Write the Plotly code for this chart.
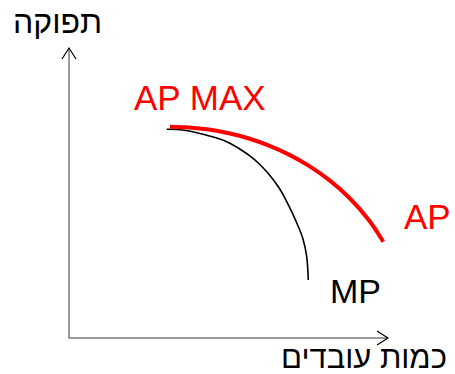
import plotly.graph_objects as go

# Data (units: labour on x, output on y)
ap_labour = [10.1, 12.0, 14.0, 16.0, 18.0, 20.0, 22.0, 24.0, 26.0, 28.0, 30.0, 31.43]
ap_output = [21.13, 21.06, 20.85, 20.48, 19.95, 19.24, 18.34, 17.21, 15.81, 14.05, 11.78, 9.63]
mp_labour = [9.77, 11.5, 13.5, 15.5, 17.0, 18.5, 19.8, 21.0, 22.0, 22.8, 23.4, 23.77, 23.93]
mp_output = [20.87, 20.78, 20.36, 19.75, 18.95, 17.89, 16.6, 15.02, 13.19, 11.45, 9.9, 8.13, 5.8]

x_axis_end = 31.9
y_axis_end = 29.0

labels = ["AP MAX", "AP", "MP"]
x_title = "כמות עובדים"
y_title = "תפוקה"

FONT = "Liberation Sans, Arial, sans-serif"

fig = go.Figure()

# axes lines
fig.add_trace(go.Scatter(x=[0, 0, x_axis_end], y=[y_axis_end, 0, 0], mode="lines",
                         line=dict(color="#7a7a7a", width=1.5), hoverinfo="skip", showlegend=False))
# chevrons
ch_w, ch_h = 0.7, 1.1
fig.add_trace(go.Scatter(x=[-ch_w, 0, ch_w], y=[y_axis_end - ch_h, y_axis_end, y_axis_end - ch_h],
                         mode="lines", line=dict(color="black", width=1.2), hoverinfo="skip", showlegend=False))
fig.add_trace(go.Scatter(x=[x_axis_end - ch_h, x_axis_end, x_axis_end - ch_h], y=[ch_w, 0, -ch_w],
                         mode="lines", line=dict(color="black", width=1.2), hoverinfo="skip", showlegend=False))

# curves
fig.add_trace(go.Scatter(x=mp_labour, y=mp_output, mode="lines",
                         line=dict(color="black", width=1.6, shape="spline", smoothing=1.0),
                         showlegend=False))
fig.add_trace(go.Scatter(x=ap_labour, y=ap_output, mode="lines",
                         line=dict(color="#ff0000", width=4, shape="spline", smoothing=1.0),
                         showlegend=False))

ann = [
    dict(x=13.1, y=24.1, text=labels[0], font=dict(color="#ff0000", size=35, family=FONT)),
    dict(x=35.8, y=12.2, text=labels[1], font=dict(color="#ff0000", size=35, family=FONT)),
    dict(x=28.6, y=4.7, text=labels[2], font=dict(color="black", size=34, family=FONT)),
    dict(x=-1.2, y=31.6, text=y_title, font=dict(color="black", size=32, family=FONT)),
    dict(x=29.5, y=-1.9, text=x_title, font=dict(color="black", size=31, family=FONT)),
]
for a in ann:
    fig.add_annotation(showarrow=False, xref="x", yref="y", xanchor="center", yanchor="middle", **a)

fig.update_layout(
    width=455, height=374,
    margin=dict(l=0, r=0, t=0, b=0),
    paper_bgcolor="white", plot_bgcolor="white",
    xaxis=dict(range=[-6.9, 38.6], visible=False, fixedrange=True),
    yaxis=dict(range=[-3.6, 33.8], visible=False, fixedrange=True),
)

fig.write_html("out.html", config={"displayModeBar": False},
               post_script="document.body.style.margin='0';document.body.style.overflow='hidden';")
